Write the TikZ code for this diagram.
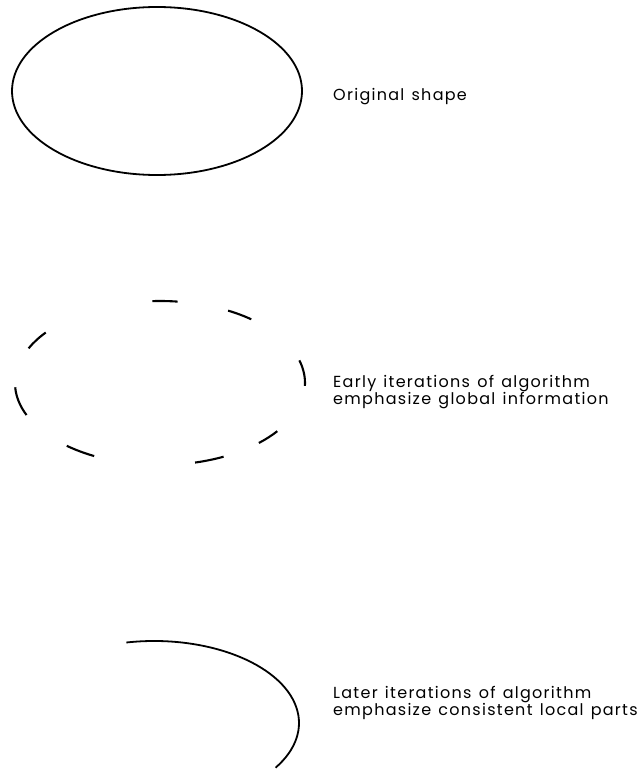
\documentclass[tikz,border=0pt]{standalone}
\usepackage{fontspec}
\setmainfont{Poppins}[LetterSpace=8,WordSpace=1.3]
\usetikzlibrary{positioning}

\begin{document}
\begin{tikzpicture}
[x=1pt,y=-1pt,
outline/.style={line width=1.8pt},
piece/.style={line width=2.1pt},
caption/.style={anchor=north west,inner sep=0pt,align=left,
  font=\fontsize{16}{17}\selectfont}
]
\useasboundingbox (0,0) rectangle (639,770);
%% original shape
\draw[outline] (157,91) ellipse [x radius=145,y radius=84];
\node[caption] (original) at (333,88) {Original shape};
%% early iterations
\coordinate (early) at (160,383);
\foreach \a/\b in {83/93,51/62,-2/16,-47/-36,-76/-64,-130/-117,183/203,142/155}
  \draw[piece] (early) ++(\a:145 and -82) arc [start angle=\a,end angle=\b,
    x radius=145,y radius=-82];
\node[caption] (global) at (333,375)
{Early iterations of algorithm\\emphasize global information};
%% later iterations
\coordinate (later) at (154,723);
\draw[outline] (later) ++(101:145 and -82) arc [start angle=101,end angle=-33,
  x radius=145,y radius=-82];
\node[caption] (local) at (333,686)
{Later iterations of algorithm\\emphasize consistent local parts};
\end{tikzpicture}
\end{document}
